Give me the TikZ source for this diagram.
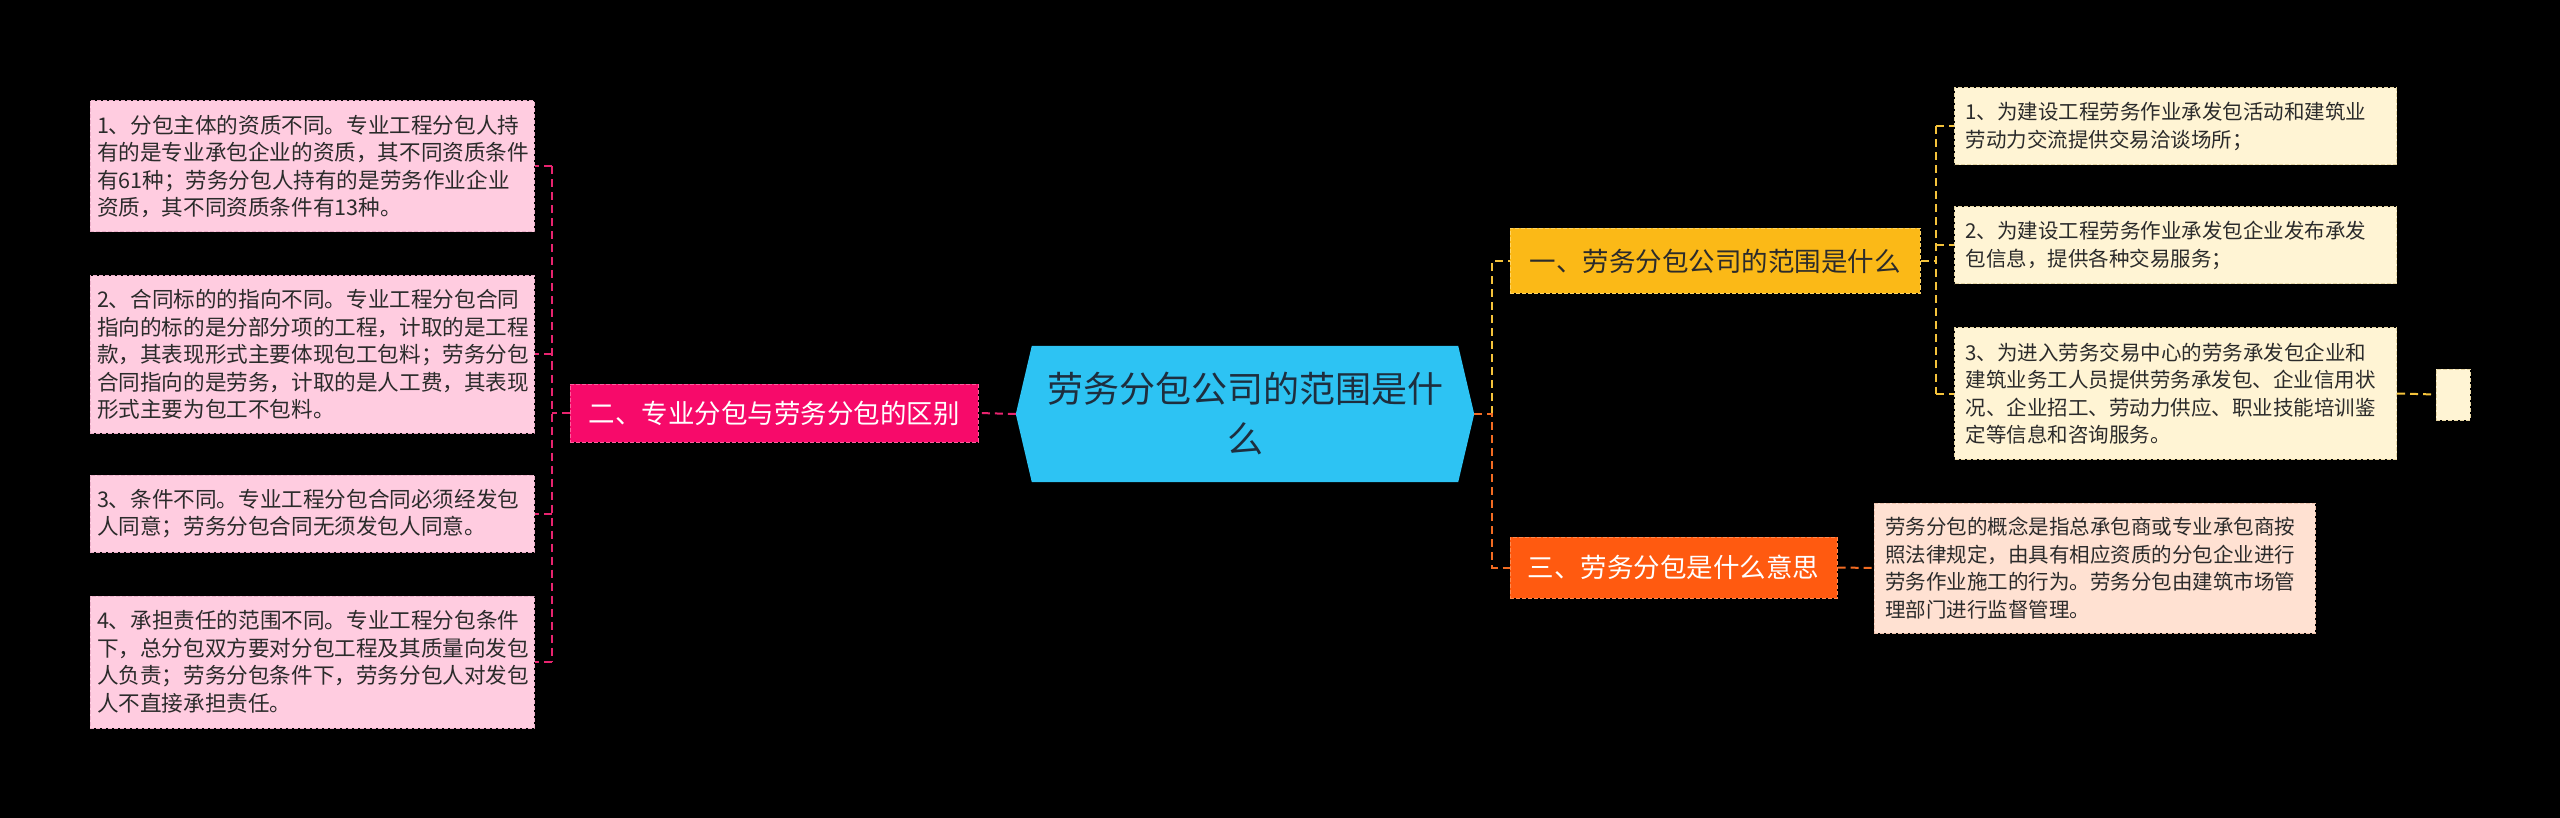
\documentclass[tikz,border=0pt]{standalone}
\usepackage{fontspec}
\newfontfamily\cjk{Noto Sans CJK SC}
\usetikzlibrary{calc}
\pgfdeclarelayer{bg}
\pgfsetlayers{bg,main}
\definecolor{pinkleaf}{HTML}{FFCCE0}
\definecolor{pinkedge}{HTML}{EBAFC9}
\definecolor{secpink}{HTML}{F70A6A}
\definecolor{secpinkedge}{HTML}{FF5E9C}
\definecolor{pinkline}{HTML}{E8246F}
\definecolor{hexblue}{HTML}{2DC3F3}
\definecolor{hextext}{HTML}{1E2E3E}
\definecolor{secyellow}{HTML}{FBB917}
\definecolor{secyellowedge}{HTML}{FFD463}
\definecolor{yelleaf}{HTML}{FFF4D4}
\definecolor{yeledge}{HTML}{E6D6A4}
\definecolor{yelline}{HTML}{F5C33B}
\definecolor{secorange}{HTML}{FF5A10}
\definecolor{secorangeedge}{HTML}{FF8A50}
\definecolor{orleaf}{HTML}{FFE1D2}
\definecolor{oredge}{HTML}{EDC2AD}
\definecolor{orline}{HTML}{F26B22}
\definecolor{darktext}{HTML}{2B2B2B}
\tikzset{
  leafbox/.style={fill=#1, line width=1pt, dash pattern=on 4pt off 2pt, text=darktext,
    font=\cjk\fontsize{20.5}{27.5}\selectfont, align=left, text width=420pt,
    inner xsep=11pt, inner ysep=0pt},
  leftbox/.style={leafbox=pinkleaf, draw=pinkedge, text width=430pt, inner xsep=7pt,
    font=\cjk\fontsize{21.6}{27.5}\selectfont},
  secbox/.style={fill=#1, line width=1pt, dash pattern=on 4pt off 2pt,
    font=\cjk\fontsize{26.5}{30}\selectfont, inner sep=0pt},
  conn/.style={line width=2pt, dash pattern=on 8pt off 5pt, draw=#1},
  hexnode/.style={minimum width=458pt, minimum height=136pt, text width=440pt,
    align=center, font=\cjk\fontsize{36}{50}\selectfont, text=hextext, inner sep=0pt}
}
\begin{document}
\begin{tikzpicture}[x=1pt,y=-1pt]
\useasboundingbox (0,0) rectangle (2560,818);

% central topic
\node[hexnode] (c) at (1245,414) {劳务分包公司的范围是什\\么};

% left section
\node[secbox=secpink, draw=secpinkedge, text=white, minimum width=408pt, minimum height=58pt] (two) at (774,413) {二、专业分包与劳务分包的区别};
\node[leftbox, minimum height=131pt] (b1) at (312,166.5) {1、分包主体的资质不同。专业工程分包人持\\有的是专业承包企业的资质，其不同资质条件\\有61种；劳务分包人持有的是劳务作业企业\\资质，其不同资质条件有13种。};
\node[leftbox, minimum height=157pt] (b2) at (312,354.5) {2、合同标的的指向不同。专业工程分包合同\\指向的标的是分部分项的工程，计取的是工程\\款，其表现形式主要体现包工包料；劳务分包\\合同指向的是劳务，计取的是人工费，其表现\\形式主要为包工不包料。};
\node[leftbox, minimum height=77pt] (b3) at (312,513.5) {3、条件不同。专业工程分包合同必须经发包\\人同意；劳务分包合同无须发包人同意。};
\node[leftbox, minimum height=132pt] (b4) at (312,662) {4、承担责任的范围不同。专业工程分包条件\\下，总分包双方要对分包工程及其质量向发包\\人负责；劳务分包条件下，劳务分包人对发包\\人不直接承担责任。};

% right sections
\node[secbox=secyellow, draw=secyellowedge, text=darktext, minimum width=410pt, minimum height=65pt] (one) at (1715,261) {一、劳务分包公司的范围是什么};
\node[leafbox=yelleaf, draw=yeledge, minimum height=77pt] (r1) at (2175.5,126.5) {1、为建设工程劳务作业承发包活动和建筑业\\劳动力交流提供交易洽谈场所；};
\node[leafbox=yelleaf, draw=yeledge, minimum height=77pt] (r2) at (2175.5,245.5) {2、为建设工程劳务作业承发包企业发布承发\\包信息，提供各种交易服务；};
\node[leafbox=yelleaf, draw=yeledge, minimum height=131pt] (r3) at (2175.5,393.5) {3、为进入劳务交易中心的劳务承发包企业和\\建筑业务工人员提供劳务承发包、企业信用状\\况、企业招工、劳动力供应、职业技能培训鉴\\定等信息和咨询服务。};
\node[fill=yelleaf, draw=yeledge, line width=1pt, dash pattern=on 4pt off 2pt, minimum width=34pt, minimum height=51pt, inner sep=0pt] (sm) at (2453,394.5) {};

\node[secbox=secorange, draw=secorangeedge, text=white, minimum width=327pt, minimum height=61pt] (three) at (1673.5,567.5) {三、劳务分包是什么意思};
\node[leafbox=orleaf, draw=oredge, minimum height=130pt, text width=419pt] (d) at (2094.5,568) {劳务分包的概念是指总承包商或专业承包商按\\照法律规定，由具有相应资质的分包企业进行\\劳务作业施工的行为。劳务分包由建筑市场管\\理部门进行监督管理。};

% background and hexagon
\begin{pgfonlayer}{bg}
\fill[black] (0,0) rectangle (2560,818);
\fill[hexblue] (c.west) -- ($(c.north west)+(16,0)$) -- ($(c.north east)+(-16,0)$) -- (c.east) -- ($(c.south east)+(-16,0)$) -- ($(c.south west)+(16,0)$) -- cycle;
\end{pgfonlayer}

% connectors left
\coordinate (lb) at (552,0);
\draw[conn=pinkline] (c.west) -- (two.east);
\draw[conn=pinkline] (two.west) -- (lb|-two.west);
\draw[conn=pinkline] (lb|-b1.east) -- (lb|-b4.east);
\foreach \n in {b1,b2,b3,b4} \draw[conn=pinkline] (lb|-\n.east) -- (\n.east);

% connectors right
\coordinate (rb) at (1492,0);
\draw[conn=yelline] (rb|-c.east) -- (rb|-one.west) -- (one.west);
\draw[conn=orline] (c.east) -- (rb|-c.east) -- (rb|-three.west) -- (three.west);
\coordinate (yb) at (1936,0);
\draw[conn=yelline] (one.east) -- (yb|-one.east);
\draw[conn=yelline] (yb|-r1.west) -- (yb|-r3.west);
\foreach \n in {r1,r2,r3} \draw[conn=yelline] (yb|-\n.west) -- (\n.west);
\draw[conn=yelline] (r3.east) -- (sm.west);
\draw[conn=orline] (three.east) -- (d.west);
\end{tikzpicture}
\end{document}
